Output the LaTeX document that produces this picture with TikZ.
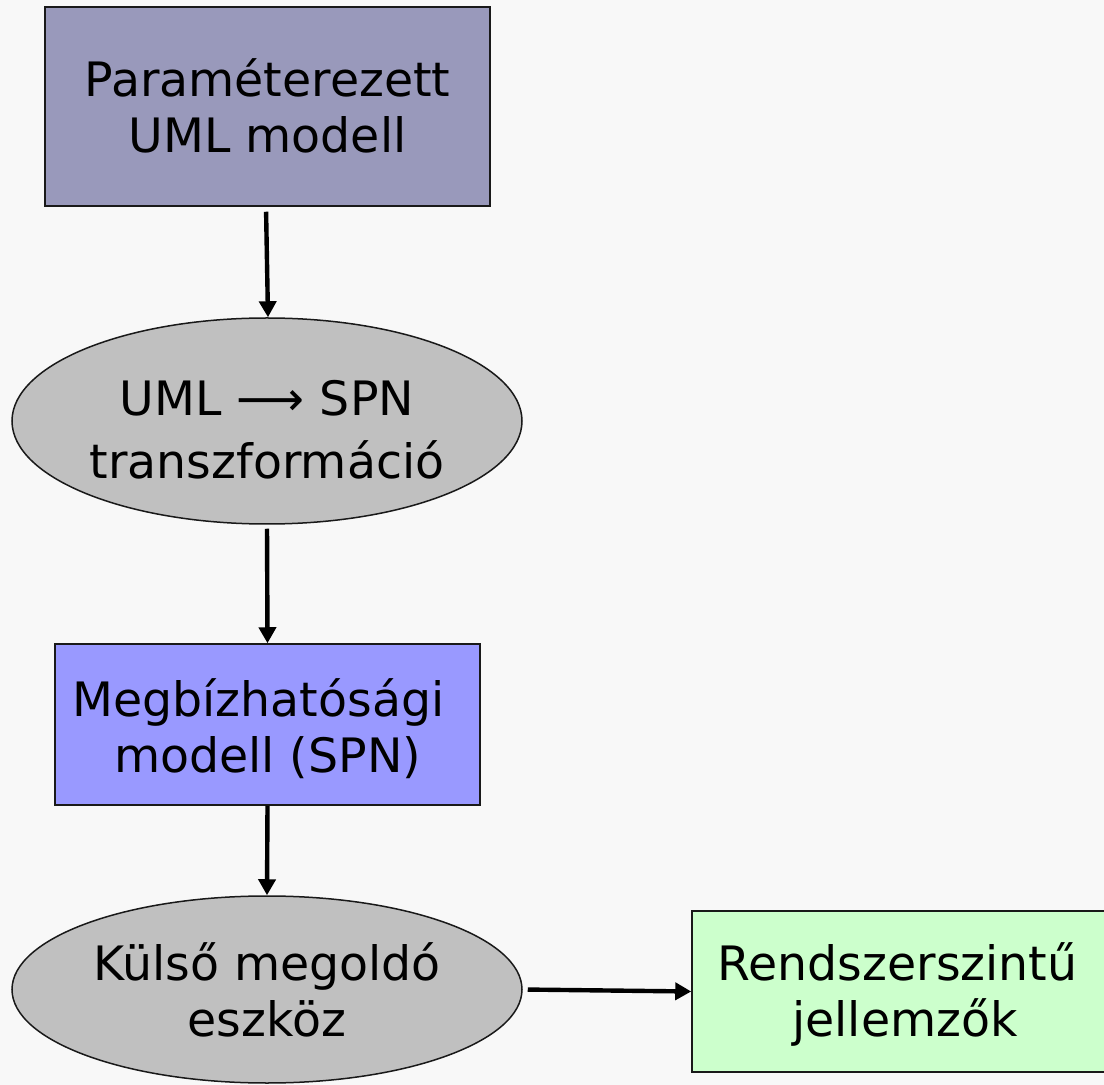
\documentclass[tikz,border=0pt]{standalone}
\usepackage{fontspec}
\setmainfont{DejaVu Sans}
\usetikzlibrary{arrows.meta,shapes.geometric}
\definecolor{bgc}{HTML}{F8F8F8}
\definecolor{umlc}{HTML}{9999BB}
\definecolor{spnc}{HTML}{9999FF}
\definecolor{ovc}{HTML}{C0C0C0}
\definecolor{resc}{HTML}{CCFFCC}
\newcommand\topln[2]{\rule{0pt}{#1}#2}
\newcommand\botln[1]{#1\rule[-6pt]{0pt}{6pt}}
\begin{document}
\begin{tikzpicture}[x=0.5pt,y=-0.5pt,
  lbl/.style={align=center, inner sep=0pt, text=black,
    font=\fontsize{23.7}{28}\selectfont},
  boxnode/.style={lbl, rectangle, draw=black!90, line width=0.75pt},
  ovalnode/.style={lbl, ellipse, draw=black!90, line width=0.75pt, fill=ovc,
    minimum width=255pt},
  conn/.style={line width=2.2pt, -{Triangle[width=8.5pt,length=8pt]}}]
\useasboundingbox (0,0) rectangle (1104,1085);
\fill[bgc] (0,0) rectangle (1104,1085);

\node[boxnode, fill=umlc, minimum width=222.5pt, minimum height=99.5pt]
  (b1) at (267.5,106.5) {\topln{24.5pt}{Paraméterezett}\\\botln{UML modell}};
\node[ovalnode, minimum height=103pt]
  (e1) at (267,421) {\topln{32.25pt}{UML ⟶ SPN}\\[3.25pt]\botln{transzformáció}};
\node[boxnode, fill=spnc, minimum width=212.5pt, minimum height=80.5pt]
  (b2) at (267.5,724.5) {\topln{26pt}{Megbízhatósági}\hspace*{9pt}\\\botln{modell (SPN)}};
\node[ovalnode, minimum height=93.5pt]
  (e2) at (267,989.5) {\topln{25pt}{Külső megoldó}\\\botln{eszköz}};
\node[boxnode, fill=resc, minimum width=213pt, minimum height=80.5pt]
  (b3) at (905,991.5) {\topln{23pt}{Rendszerszintű}\hspace*{7.5pt}\\\botln{jellemzők}};

\draw[conn, shorten <=2.5pt] ([xshift=-0.75pt]b1.south) -- ([xshift=0.5pt]e1.north);
\draw[conn, shorten <=2pt] (e1.south) -- (b2.north);
\draw[conn] (b2.south) -- (e2.north);
\draw[conn, shorten <=2.5pt] (e2.east) -- (b3.west);
\end{tikzpicture}
\end{document}
